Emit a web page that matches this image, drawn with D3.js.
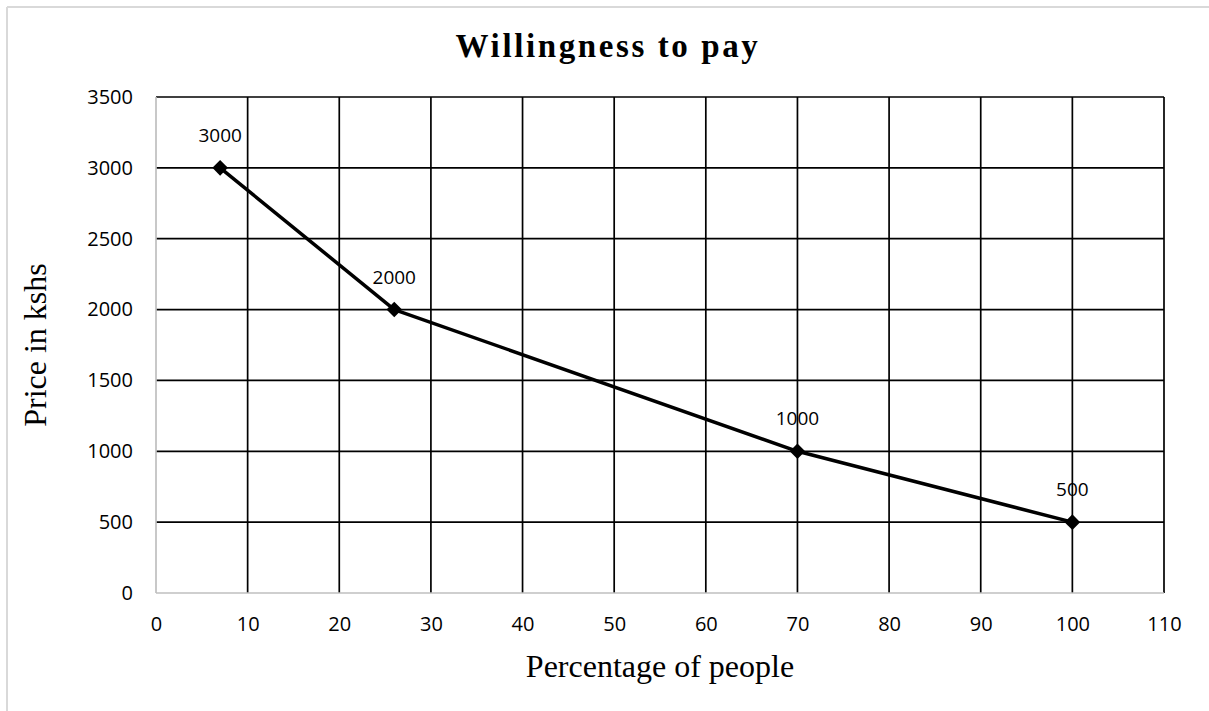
<!DOCTYPE html>
<html>
<head>
<meta charset="utf-8">
<script src="https://cdn.jsdelivr.net/npm/d3@7"></script>
<style>
  html, body { margin: 0; padding: 0; background: #fff; }
  svg { display: block; }
</style>
</head>
<body>
<svg id="chart" width="1209" height="711"></svg>
<script>
// Survey results: share of people willing to pay at each price
const percentPeople = [7, 26, 70, 100];
const priceKshs = [3000, 2000, 1000, 500];
const xTicks = [0, 10, 20, 30, 40, 50, 60, 70, 80, 90, 100, 110];
const yTicks = [0, 500, 1000, 1500, 2000, 2500, 3000, 3500];

const W = 1209, H = 711;
const margin = { left: 156, right: 1164, top: 97, bottom: 593 };

const svg = d3.select("#chart");

// Outer chart frame (top and left edges visible)
svg.append("line").attr("x1", 7).attr("x2", W).attr("y1", 7).attr("y2", 7)
  .attr("stroke", "#d9d9d9").attr("stroke-width", 2);
svg.append("line").attr("x1", 7).attr("x2", 7).attr("y1", 7).attr("y2", H)
  .attr("stroke", "#d9d9d9").attr("stroke-width", 2);

const x = d3.scaleLinear().domain([0, 110]).range([margin.left, margin.right]);
const y = d3.scaleLinear().domain([0, 3500]).range([margin.bottom, margin.top]);

// Gridlines
const grid = svg.append("g");
grid.selectAll("line.v").data(xTicks.filter(d => d > 0)).join("line")
  .attr("x1", d => x(d)).attr("x2", d => x(d))
  .attr("y1", y(3500)).attr("y2", y(0))
  .attr("stroke", "#000").attr("stroke-width", 1.7);
grid.selectAll("line.h").data(yTicks.filter(d => d > 0)).join("line")
  .attr("x1", x(0)).attr("x2", x(110))
  .attr("y1", d => y(d)).attr("y2", d => y(d))
  .attr("stroke", "#000").attr("stroke-width", 1.7);

// Axis lines
svg.append("line").attr("x1", x(0)).attr("x2", x(110)).attr("y1", y(0)).attr("y2", y(0))
  .attr("stroke", "#bfbfbf").attr("stroke-width", 1.7);
svg.append("line").attr("x1", x(0)).attr("x2", x(0)).attr("y1", y(0)).attr("y2", y(3500))
  .attr("stroke", "#bfbfbf").attr("stroke-width", 1.7);

// Tick labels through D3 axes
const tickFont = "'Open Sans', 'Noto Sans', sans-serif";
const xAxis = svg.append("g").attr("transform", `translate(0,${y(0)})`)
  .call(d3.axisBottom(x).tickValues(xTicks).tickFormat(d3.format("d")).tickSize(0).tickPadding(24));
const yAxis = svg.append("g").attr("transform", `translate(${x(0)},0)`)
  .call(d3.axisLeft(y).tickValues(yTicks).tickFormat(d3.format("d")).tickSize(0).tickPadding(23));
[xAxis, yAxis].forEach(g => {
  g.select(".domain").remove();
  g.selectAll("text").attr("font-family", tickFont).attr("font-size", 20).attr("fill", "#000");
});

// Line series
const pts = percentPeople.map((p, i) => ({ p, v: priceKshs[i] }));
svg.append("path").datum(pts)
  .attr("d", d3.line().x(d => x(d.p)).y(d => y(d.v)))
  .attr("fill", "none").attr("stroke", "#000").attr("stroke-width", 3.5)
  .attr("stroke-linejoin", "round");

// Diamond markers
svg.selectAll("path.marker").data(pts).join("path")
  .attr("class", "marker")
  .attr("transform", d => `translate(${x(d.p)},${y(d.v)}) rotate(45)`)
  .attr("d", "M-5.5,-5.5H5.5V5.5H-5.5Z")
  .attr("fill", "#000");

// Data labels
svg.selectAll("text.lbl").data(pts).join("text")
  .attr("class", "lbl")
  .attr("x", d => x(d.p)).attr("y", d => y(d.v) - 26)
  .attr("text-anchor", "middle")
  .attr("font-family", tickFont).attr("font-size", 19).attr("fill", "#000")
  .text(d => d.v);

// Title
svg.append("text").attr("x", 608).attr("y", 57)
  .attr("text-anchor", "middle")
  .attr("font-family", "'Liberation Serif', 'Times New Roman', serif")
  .attr("font-weight", "bold").attr("font-size", 33).attr("letter-spacing", 2.6)
  .text("Willingness to pay");

// Axis titles
svg.append("text").attr("x", x(55)).attr("y", 677)
  .attr("text-anchor", "middle")
  .attr("font-family", "'Liberation Serif', 'Times New Roman', serif")
  .attr("font-size", 32)
  .text("Percentage of people");
svg.append("text")
  .attr("transform", `translate(46,${y(1750)}) rotate(-90)`)
  .attr("text-anchor", "middle")
  .attr("font-family", "'Liberation Serif', 'Times New Roman', serif")
  .attr("font-size", 32)
  .text("Price in kshs");
</script>
</body>
</html>
